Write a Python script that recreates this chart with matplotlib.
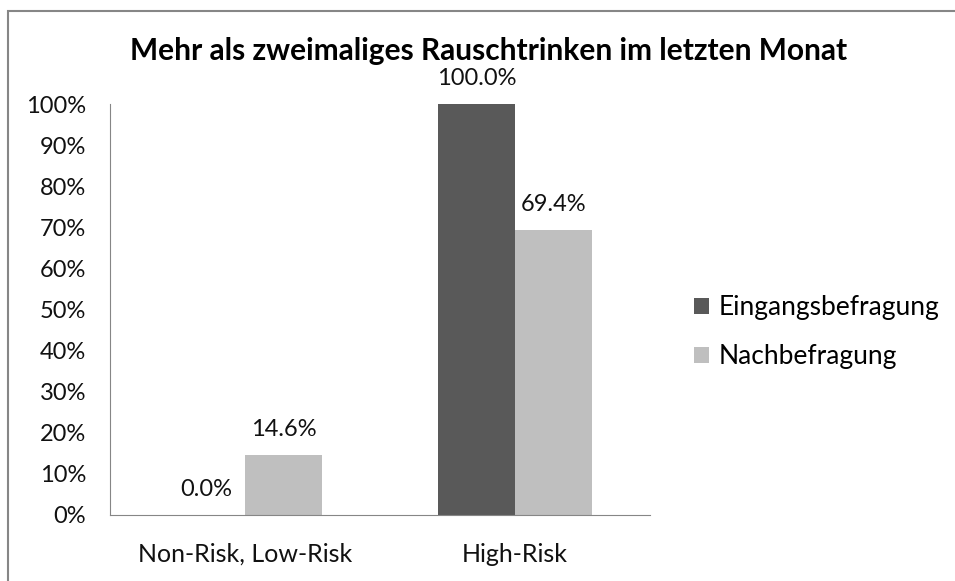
import numpy as np
import matplotlib
matplotlib.use("Agg")
import matplotlib.pyplot as plt
from matplotlib.patches import Rectangle

plt.rcParams['font.family'] = ['Lato', 'DejaVu Sans']

# Daten
kategorien = ["Non-Risk, Low-Risk", "High-Risk"]
eingang = [0.0, 100.0]
nachbef = [14.6, 69.4]
serien = ["Eingangsbefragung", "Nachbefragung"]
farben = ["#595959", "#bfbfbf"]
yticks = [0, 10, 20, 30, 40, 50, 60, 70, 80, 90, 100]

fig = plt.figure(figsize=(9.55, 5.81), dpi=100)
ax = fig.add_axes([0.115, 0.1136, 0.566, 0.707])

x = np.arange(len(kategorien))
w = 0.285
b1 = ax.bar(x - w/2, eingang, w, color=farben[0], label=serien[0])
b2 = ax.bar(x + w/2, nachbef, w, color=farben[1], label=serien[1])

# Beschriftung der Balken
for bars, vals in [(b1, eingang), (b2, nachbef)]:
    for r, v in zip(bars, vals):
        ax.annotate(f"{v:.1f}%", (r.get_x() + r.get_width()/2, v),
                    xytext=(0, 13.5), textcoords="offset points",
                    ha="center", va="baseline", fontsize=17, color="#111111",
                    annotation_clip=False)

ax.set_xlim(-0.5, 1.5)
ax.set_ylim(0, 100)
ax.set_yticks(yticks)
ax.set_yticklabels([f"{t}%" for t in yticks])
ax.set_xticks(x)
ax.set_xticklabels(kategorien, fontsize=18)
ax.tick_params(axis="both", length=0, colors="#111111")
ax.tick_params(axis="y", pad=17, labelsize=17)
ax.tick_params(axis="x", pad=20)
for s in ["top", "right"]:
    ax.spines[s].set_visible(False)
for s in ["left", "bottom"]:
    ax.spines[s].set_color("#868686")

fig.text(0.512, 1 - 60/581, "Mehr als zweimaliges Rauschtrinken im letzten Monat",
         ha="center", va="baseline", fontsize=21.5, fontweight="bold")

fig.legend(loc="center left", bbox_to_anchor=(0.702, 0.428), frameon=False,
           fontsize=19, handlelength=0.57, handleheight=0.57, handletextpad=0.34,
           labelspacing=0.9)

# Rahmen
fig.patches.append(Rectangle((8/955, -0.05), 1.0, 1.05 - 11/581, transform=fig.transFigure,
                             fill=False, edgecolor="#868686", linewidth=1.5))

fig.savefig("out.png", dpi=100)
